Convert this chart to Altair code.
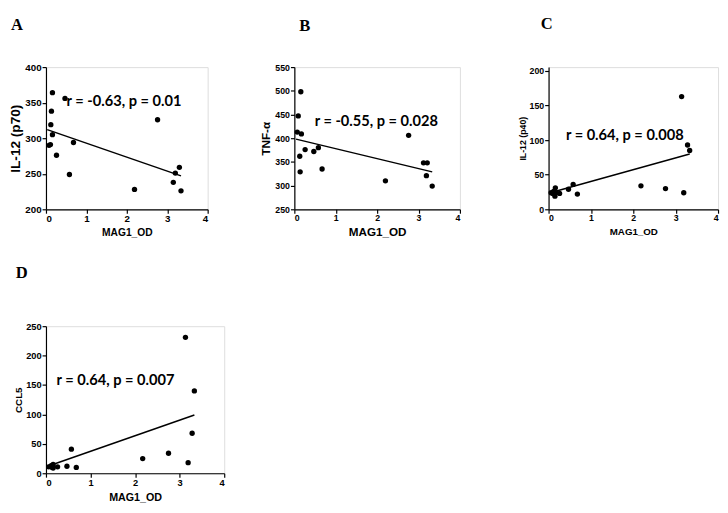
import altair as alt
import pandas as pd

# ---- data ----
A_x = [0.075, 0.11, 0.12, 0.135, 0.16, 0.16, 0.26, 0.47, 0.58, 0.68, 2.19, 2.76, 3.15, 3.20, 3.30, 3.34]
A_y = [290, 291, 319, 338, 364, 305, 276, 356, 249, 294, 228, 326, 238, 251, 259, 226]
A_fit_x = [0.03, 3.34]
A_fit_y = [312, 247]

B_x = [0.07, 0.094, 0.13, 0.14, 0.156, 0.17, 0.26, 0.47, 0.58, 0.67, 2.20, 2.76, 3.12, 3.19, 3.21, 3.33]
B_y = [413, 447, 362, 329, 498, 409, 376, 372, 380, 335, 310, 406, 348, 321, 348, 299]
B_fit_x = [0.04, 3.33]
B_fit_y = [398, 329]

C_x = [0.06, 0.10, 0.12, 0.15, 0.16, 0.17, 0.26, 0.47, 0.58, 0.68, 2.18, 2.76, 3.14, 3.19, 3.28, 3.33]
C_y = [24, 23, 26, 19, 31, 24, 23, 29, 36, 22, 34, 30, 163, 24, 93, 85]
C_fit_x = [0.04, 3.33]
C_fit_y = [24, 80]

D_x = [0.06, 0.11, 0.12, 0.14, 0.16, 0.16, 0.26, 0.47, 0.57, 0.68, 2.17, 2.75, 3.13, 3.19, 3.28, 3.33]
D_y = [11, 12, 13, 10, 15, 9, 11, 12, 41, 10, 25, 34, 231, 18, 68, 140]
D_fit_x = [0.04, 3.33]
D_fit_y = [12, 99]

x_ticks = [0, 1, 2, 3, 4]
A_ticks = [200, 250, 300, 350, 400]
B_ticks = [250, 300, 350, 400, 450, 500, 550]
C_ticks = [0, 50, 100, 150, 200]
D_ticks = [0, 50, 100, 150, 200, 250]

ann_text = ["r = -0.63, p = 0.01", "r = -0.55, p = 0.028", "r = 0.64, p = 0.008", "r = 0.64, p = 0.007"]
ann_x = [1.93, 1.98, 1.80, 1.56]
ann_y = [352, 437, 107, 159]

AXF = "Liberation Sans"


def panel(letter, xs, ys, fx, fy, ytitle, ydom, yticks, ann, ax, ay,
          w, h, lab_fs, xt_fs, yt_fs, dx, offset):
    pts = pd.DataFrame({"x": xs, "y": ys})
    fit = pd.DataFrame({"x": fx, "y": fy})
    txt = pd.DataFrame({"x": [ax], "y": [ay], "t": [ann]})
    common = dict(labelFont=AXF, labelFontWeight="bold", labelFontSize=lab_fs, labelColor="black",
                  titleFont=AXF, titleFontWeight="bold", titleColor="black",
                  domainColor="black", tickColor="black", domainWidth=1.2, tickWidth=1.2,
                  tickSize=4, labelPadding=1, grid=False, format="d")
    X = alt.X("x:Q", scale=alt.Scale(domain=[0, 4], nice=False),
              axis=alt.Axis(values=x_ticks, title="MAG1_OD", titleFontSize=xt_fs,
                            titlePadding=4, **common))
    Y = alt.Y("y:Q", scale=alt.Scale(domain=ydom, nice=False, zero=False),
              axis=alt.Axis(values=yticks, title=ytitle, titleFontSize=yt_fs,
                            titlePadding=2, **common))
    p = alt.Chart(pts).mark_circle(size=30, color="black", opacity=1).encode(x=X, y=Y)
    l = alt.Chart(fit).mark_line(color="black", strokeWidth=1.5).encode(x=X, y=Y)
    t = alt.Chart(txt).mark_text(font="Lato", fontWeight="bold", fontSize=15, color="black",
                                  align="center", baseline="middle").encode(x=X, y=Y, text="t:N")
    return alt.layer(p, l, t).properties(
        width=w, height=h,
        title=alt.TitleParams(letter, anchor="start", frame="group", dx=dx, offset=offset,
                              font="Liberation Serif", fontSize=17, fontWeight="bold", color="black"))


A = panel("A", A_x, A_y, A_fit_x, A_fit_y, "IL-12 (p70)", [200, 400], A_ticks, ann_text[0], ann_x[0], ann_y[0],
          166, 146, 10, 10.5, 14, -36, 29)
B = panel("B", B_x, B_y, B_fit_x, B_fit_y, "TNF-α", [250, 550], B_ticks, ann_text[1], ann_x[1], ann_y[1],
          170, 146, 9, 12, 12, 5, 29)
C = panel("C", C_x, C_y, C_fit_x, C_fit_y, "IL-12 (p40)", [0, 205.6], C_ticks, ann_text[2], ann_x[2], ann_y[2],
          174, 146, 9, 10, 9, -8, 35)
D = panel("D", D_x, D_y, D_fit_x, D_fit_y, "CCL5", [0, 250], D_ticks, ann_text[3], ann_x[3], ann_y[3],
          183, 151, 9.5, 11, 10, -31, 40)

top = alt.hconcat(alt.hconcat(A, B, spacing=51), C, spacing=57)
chart = alt.vconcat(top, D, spacing=26).properties(
    padding={"left": 0, "top": 0, "right": 0, "bottom": 0}
).configure_view(stroke=None).configure(background="white")

chart.save("out.html", embed_options={"renderer": "svg", "actions": False})
